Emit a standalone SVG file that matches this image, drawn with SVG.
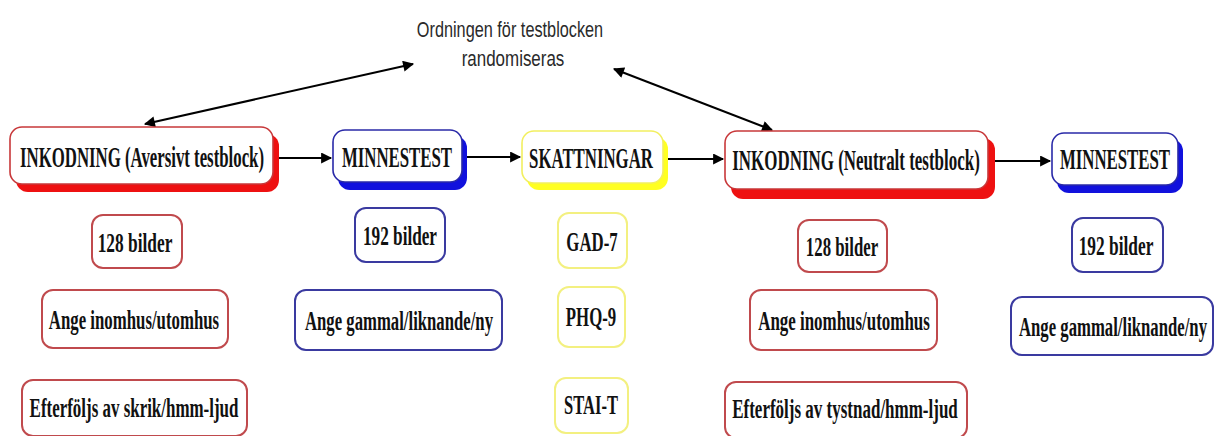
<svg xmlns="http://www.w3.org/2000/svg" width="1215" height="436" viewBox="0 0 1215 436">
<defs>
<marker id="ah" viewBox="0 0 10 10" refX="9" refY="5" markerWidth="6" markerHeight="5.5" orient="auto-start-reverse" markerUnits="strokeWidth">
<path d="M0,0 L10,5 L0,10 z" fill="#000"/>
</marker>
</defs>
<style>
.lbl{font-family:"Liberation Serif","Times New Roman",serif;font-weight:bold;font-size:30px;fill:#111;text-anchor:middle;dominant-baseline:central}
.sl{font-family:"Liberation Serif","Times New Roman",serif;font-weight:bold;font-size:28px;fill:#111;text-anchor:middle;dominant-baseline:central}
.top{font-family:"Liberation Sans",Arial,sans-serif;font-size:22px;fill:#2a2a2a;text-anchor:middle}
.box{fill:#fff;stroke-width:1.6}
.r{stroke:#c8383a}
.b{stroke:#2a2aa8}
.y{stroke:#f2ef60}
.sr{fill:#ee1111}
.sb{fill:#1111dd}
.sy{fill:#ffff22}
.sub{fill:#fff;stroke-width:2}
.sr2{stroke:#c04a4d}
.sb2{stroke:#3a3aa0}
.sy2{stroke:#f3f080}
.con{stroke:#000;stroke-width:2;fill:none}
</style>
<g id="title">
<text class="top" transform="translate(510,37) scale(0.74,1)">Ordningen för testblocken</text>
<text class="top" transform="translate(513,66) scale(0.77,1)">randomiseras</text>
</g>
<g id="connectors">
<line class="con" x1="145" y1="124" x2="413" y2="64" marker-start="url(#ah)" marker-end="url(#ah)"/>
<line class="con" x1="614" y1="69" x2="772" y2="130" marker-start="url(#ah)" marker-end="url(#ah)"/>
<line class="con" x1="278" y1="158" x2="331" y2="158" marker-end="url(#ah)"/>
<line class="con" x1="466" y1="157" x2="520" y2="157" marker-end="url(#ah)"/>
<line class="con" x1="667" y1="159" x2="723" y2="159" marker-end="url(#ah)"/>
<line class="con" x1="992" y1="161" x2="1050" y2="161" marker-end="url(#ah)"/>
</g>
<g id="n1">
<rect class="sr" x="16" y="134" width="263" height="58" rx="12"/>
<rect class="box r" x="10" y="127" width="263" height="57" rx="12"/>
<text class="lbl" transform="translate(142,157) scale(0.56,1)">INKODNING (Aversivt testblock)</text>
</g>
<g id="n2">
<rect class="sb" x="338" y="136" width="129" height="54" rx="12"/>
<rect class="box b" x="333" y="130" width="129" height="52" rx="12"/>
<text class="lbl" transform="translate(397,157) scale(0.56,1)">MINNESTEST</text>
</g>
<g id="n3">
<rect class="sy" x="527" y="137" width="141" height="53" rx="12"/>
<rect class="box y" x="522" y="131" width="141" height="52" rx="12"/>
<text class="lbl" transform="translate(591,158) scale(0.56,1)">SKATTNINGAR</text>
</g>
<g id="n4">
<rect class="sr" x="731" y="138" width="264" height="61" rx="12"/>
<rect class="box r" x="725" y="131" width="263" height="58" rx="12"/>
<text class="lbl" transform="translate(856,160) scale(0.565,1)">INKODNING (Neutralt testblock)</text>
</g>
<g id="n5">
<rect class="sb" x="1057" y="139" width="126" height="54" rx="12"/>
<rect class="box b" x="1052" y="133" width="126" height="52" rx="12"/>
<text class="lbl" transform="translate(1115,159) scale(0.56,1)">MINNESTEST</text>
</g>
<g id="s1a"><rect class="sub sr2" x="92" y="215" width="90" height="53" rx="11"/><text class="sl" transform="translate(135,242) scale(0.62,1)">128 bilder</text></g>
<g id="s1b"><rect class="sub sr2" x="42" y="290" width="186" height="58" rx="11"/><text class="sl" transform="translate(134,319) scale(0.6,1)">Ange inomhus/utomhus</text></g>
<g id="s1c"><rect class="sub sr2" x="22" y="380" width="225" height="56" rx="11"/><text class="sl" transform="translate(134,407) scale(0.605,1)">Efterföljs av skrik/hmm-ljud</text></g>
<g id="s2a"><rect class="sub sb2" x="355" y="208" width="90" height="54" rx="11"/><text class="sl" transform="translate(400,235) scale(0.614,1)">192 bilder</text></g>
<g id="s2b"><rect class="sub sb2" x="295" y="290" width="207" height="60" rx="11"/><text class="sl" transform="translate(399,320) scale(0.597,1)">Ange gammal/liknande/ny</text></g>
<g id="s3a"><rect class="sub sy2" x="558" y="213" width="69" height="55" rx="11"/><text class="sl" transform="translate(592,241) scale(0.6,1)">GAD-7</text></g>
<g id="s3b"><rect class="sub sy2" x="558" y="287" width="67" height="60" rx="11"/><text class="sl" transform="translate(591,316) scale(0.6,1)">PHQ-9</text></g>
<g id="s3c"><rect class="sub sy2" x="555" y="378" width="73" height="55" rx="11"/><text class="sl" transform="translate(591,405) scale(0.59,1)">STAI-T</text></g>
<g id="s4a"><rect class="sub sr2" x="798" y="220" width="89" height="52" rx="11"/><text class="sl" transform="translate(842,246) scale(0.6,1)">128 bilder</text></g>
<g id="s4b"><rect class="sub sr2" x="750" y="290" width="187" height="60" rx="11"/><text class="sl" transform="translate(844,320) scale(0.605,1)">Ange inomhus/utomhus</text></g>
<g id="s4c"><rect class="sub sr2" x="725" y="382" width="242" height="56" rx="11"/><text class="sl" transform="translate(845,408) scale(0.607,1)">Efterföljs av tystnad/hmm-ljud</text></g>
<g id="s5a"><rect class="sub sb2" x="1072" y="218" width="91" height="54" rx="11"/><text class="sl" transform="translate(1116,245) scale(0.62,1)">192 bilder</text></g>
<g id="s5b"><rect class="sub sb2" x="1011" y="297" width="202" height="58" rx="11"/><text class="sl" transform="translate(1113,326) scale(0.597,1)">Ange gammal/liknande/ny</text></g>
</svg>
